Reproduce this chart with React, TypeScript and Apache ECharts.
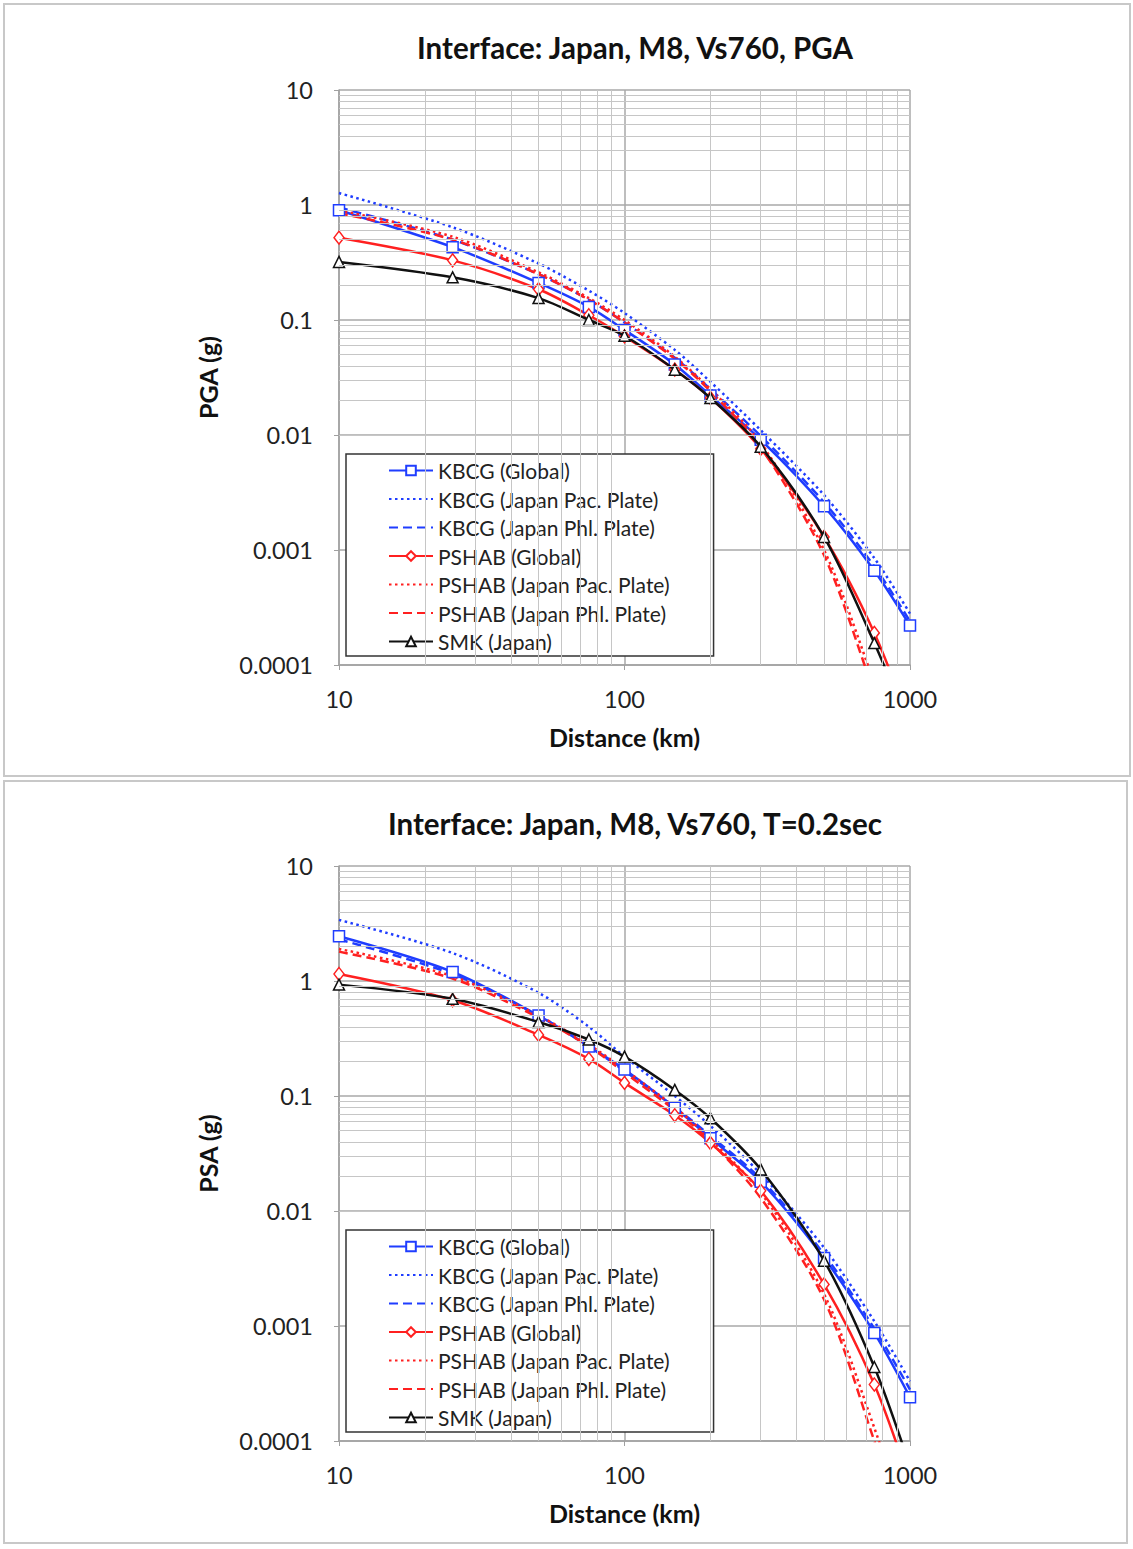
import React, { useEffect, useRef } from "react";
import * as echarts from "echarts";

const distances = [10, 25, 50, 75, 100, 150, 200, 300, 500, 750, 1000];

const seriesNames = [
  "KBCG (Global)",
  "KBCG (Japan Pac. Plate)",
  "KBCG (Japan Phl. Plate)",
  "PSHAB (Global)",
  "PSHAB (Japan Pac. Plate)",
  "PSHAB (Japan Phl. Plate)",
  "SMK (Japan)",
];

// Panel 1: PGA
const kbcgGlobalPGA = [0.9, 0.43, 0.21, 0.13, 0.082, 0.041, 0.022, 0.0091, 0.0024, 0.00066, 0.00022];
const kbcgPacPGA = [1.27, 0.64, 0.31, 0.18, 0.115, 0.055, 0.029, 0.011, 0.003, 0.00085, 0.00028];
const kbcgPhlPGA = [0.95, 0.5, 0.25, 0.15, 0.095, 0.047, 0.025, 0.0098, 0.0026, 0.00072, 0.00024];
const pshabGlobalPGA = [0.52, 0.33, 0.185, 0.11, 0.072, 0.037, 0.021, 0.0076, 0.0013, 0.00019, 0.00003];
const pshabPacPGA = [0.9, 0.53, 0.26, 0.155, 0.1, 0.048, 0.025, 0.0085, 0.001, 0.00007, 0.00001];
const pshabPhlPGA = [0.85, 0.5, 0.25, 0.15, 0.095, 0.046, 0.024, 0.0078, 0.0009, 0.000057, 0.000008];
const smkPGA = [0.32, 0.235, 0.155, 0.1, 0.073, 0.037, 0.021, 0.0079, 0.0013, 0.000155, 0.000028];

// Panel 2: PSA at T=0.2 sec
const kbcgGlobalPSA = [2.45, 1.2, 0.5, 0.27, 0.17, 0.079, 0.043, 0.018, 0.0039, 0.00087, 0.00024];
const kbcgPacPSA = [3.4, 1.75, 0.79, 0.4, 0.22, 0.1, 0.055, 0.021, 0.0048, 0.0011, 0.00033];
const kbcgPhlPSA = [2.3, 1.15, 0.5, 0.27, 0.165, 0.08, 0.045, 0.019, 0.0042, 0.00095, 0.00028];
const pshabGlobalPSA = [1.15, 0.68, 0.34, 0.21, 0.13, 0.068, 0.039, 0.015, 0.0023, 0.00031, 0.000043];
const pshabPacPSA = [1.9, 1.1, 0.5, 0.28, 0.17, 0.08, 0.042, 0.0145, 0.0019, 0.00013, 0.000015];
const pshabPhlPSA = [1.8, 1.05, 0.48, 0.27, 0.16, 0.075, 0.04, 0.013, 0.0017, 0.0001, 0.0000115];
const smkPSA = [0.93, 0.7, 0.44, 0.31, 0.22, 0.113, 0.064, 0.023, 0.0037, 0.00044, 0.00006];

const yTickLabels = ["0.0001", "0.001", "0.01", "0.1", "1", "10"];
const xTickLabels = ["10", "100", "1000"];
const xMinorGrid = [20, 30, 40, 50, 60, 70, 80, 90, 200, 300, 400, 500, 600, 700, 800, 900];
const yDecades = [0.0001, 0.001, 0.01, 0.1, 1];
const minorMultipliers = [2, 3, 4, 5, 6, 7, 8, 9];

const titles = ["Interface: Japan, M8, Vs760, PGA", "Interface: Japan, M8, Vs760, T=0.2sec"];
const yNames = ["PGA (g)", "PSA (g)"];
const xName = "Distance (km)";

const FONT = "Lato";
const BLUE = "#1f3dff";
const RED = "#ff2020";
const BLACK = "#111111";
const CLEAR = "rgba(0,0,0,0)";

const panels = [
  [kbcgGlobalPGA, kbcgPacPGA, kbcgPhlPGA, pshabGlobalPGA, pshabPacPGA, pshabPhlPGA, smkPGA],
  [kbcgGlobalPSA, kbcgPacPSA, kbcgPhlPSA, pshabGlobalPSA, pshabPacPSA, pshabPhlPSA, smkPSA],
];

const styles = [
  { color: BLUE, type: "solid", symbol: "rect" },
  { color: BLUE, type: [2.5, 3.5], symbol: "none" },
  { color: BLUE, type: [9, 5], symbol: "none" },
  { color: RED, type: "solid", symbol: "diamond" },
  { color: RED, type: [2.5, 3.5], symbol: "none" },
  { color: RED, type: [9, 5], symbol: "none" },
  { color: BLACK, type: "solid", symbol: "triangle" },
];

export default function App() {
  const ref = useRef<HTMLDivElement>(null);
  useEffect(() => {
    document.body.style.margin = "0";
    const chart = echarts.init(ref.current!, undefined, { renderer: "svg" });

    const gridTops = [90, 866];
    const grids = gridTops.map((t) => ({ left: 339, top: t, width: 571, height: 575 }));

    const xAxes = [0, 1].map((i) => ({
      type: "log",
      logBase: 10,
      gridIndex: i,
      min: 10,
      max: 1000,
      name: xName,
      nameLocation: "middle",
      nameGap: 59,
      nameTextStyle: { fontFamily: FONT, fontSize: 25, fontWeight: "bold", color: "#111" },
      axisLine: { show: true, lineStyle: { color: "#a0a0a0", width: 1.5 } },
      axisTick: { show: true, length: 5, lineStyle: { color: "#a0a0a0" } },
      axisLabel: {
        margin: 22,
        fontFamily: FONT,
        fontSize: 23.5,
        color: "#222",
        formatter: (v: number) => {
          const k = Math.round(Math.log10(v)) - 1;
          return xTickLabels[k] ?? "";
        },
      },
      splitLine: { show: true, lineStyle: { color: "#a8a8a8", width: 1.5 } },
    }));

    const yAxes = [0, 1].map((i) => ({
      type: "log",
      logBase: 10,
      gridIndex: i,
      min: 0.0001,
      max: 10,
      name: yNames[i],
      nameLocation: "middle",
      nameGap: 119,
      nameRotate: 90,
      nameTextStyle: { fontFamily: FONT, fontSize: 25, fontWeight: "bold", color: "#111" },
      axisLine: { show: true, lineStyle: { color: "#a0a0a0", width: 1.5 } },
      axisTick: { show: true, length: 5, lineStyle: { color: "#a0a0a0" } },
      axisLabel: {
        margin: 26,
        fontFamily: FONT,
        fontSize: 23.5,
        color: "#222",
        formatter: (v: number) => {
          const k = Math.round(Math.log10(v)) + 4;
          return yTickLabels[k] ?? "";
        },
      },
      splitLine: { show: true, lineStyle: { color: "#a8a8a8", width: 1.5 } },
    }));

    const minorY: number[] = [];
    yDecades.forEach((d) => minorMultipliers.forEach((m) => minorY.push(+(d * m).toPrecision(3))));

    const series: any[] = [];
    [0, 1].forEach((p) => {
      series.push({
        type: "line",
        name: "_grid" + p,
        xAxisIndex: p,
        yAxisIndex: p,
        data: [],
        silent: true,
        z: 1,
        markLine: {
          silent: true,
          symbol: ["none", "none"],
          label: { show: false },
          lineStyle: { color: "#c6c6c6", width: 1, type: "solid" },
          emphasis: { disabled: true },
          data: [
            ...xMinorGrid.map((v) => ({ xAxis: v })),
            ...minorY.map((v) => ({ yAxis: v })),
          ],
        },
      });
      panels[p].forEach((vals, i) => {
        const st = styles[i];
        const hasMarker = st.symbol !== "none";
        series.push({
          type: "line",
          name: seriesNames[i],
          xAxisIndex: p,
          yAxisIndex: p,
          data: distances.map((d, j) => [d, vals[j]]),
          smooth: 0.3,
          clip: true,
          z: 3 + (i === 6 ? 1 : 0),
          symbol: st.symbol,
          symbolSize: st.symbol === "diamond" ? [10, 13] : 11,
          showSymbol: hasMarker,
          lineStyle: { color: st.color, width: 2.5, type: st.type },
          itemStyle: hasMarker
            ? { color: "#ffffff", borderColor: st.color, borderWidth: 1.5 }
            : { color: CLEAR, borderColor: CLEAR, borderWidth: 0 },
          emphasis: { disabled: true },
        });
      });
    });

    const legendData = seriesNames.map((n, i) =>
      styles[i].symbol === "none"
        ? { name: n, itemStyle: { color: CLEAR, borderColor: CLEAR, borderWidth: 0, opacity: 0 } }
        : { name: n }
    );

    const option: any = {
      animation: false,
      backgroundColor: "#ffffff",
      graphic: [
        { type: "rect", shape: { x: 4, y: 4, width: 1126, height: 772 }, style: { fill: "none", stroke: "#c8c8c8", lineWidth: 2 } },
        { type: "rect", shape: { x: 4, y: 781, width: 1123, height: 762 }, style: { fill: "none", stroke: "#c8c8c8", lineWidth: 2 } },
      ],
      title: [0, 1].map((i) => ({
        text: titles[i],
        left: 630,
        textAlign: "center",
        top: gridTops[i] - 63,
        textStyle: { fontFamily: FONT, fontSize: 29.5, fontWeight: "bold", color: "#111" },
      })),
      legend: [0, 1].map((i) => ({
        data: legendData,
        orient: "vertical",
        left: 346,
        top: gridTops[i] + 364,
        itemWidth: 44,
        itemHeight: 12,
        itemGap: 7.5,
        padding: [6, 44, 4, 42],
        borderColor: "#333",
        borderWidth: 1.5,
        backgroundColor: "#ffffff",
        selectedMode: false,
        textStyle: { fontFamily: FONT, fontSize: 21, color: "#222", lineHeight: 20 },
      })),
      grid: grids,
      xAxis: xAxes,
      yAxis: yAxes,
      series,
    };
    chart.setOption(option);
    return () => chart.dispose();
  }, []);
  return <div ref={ref} style={{ width: 1133, height: 1549 }} />;
}
